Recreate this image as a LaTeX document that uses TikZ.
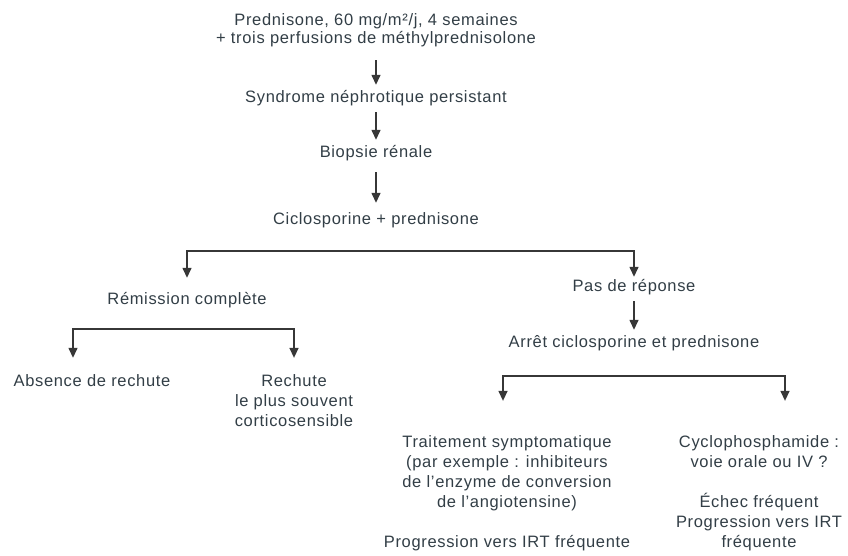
\documentclass[tikz,border=0pt]{standalone}
\usepackage{fontspec}
\setmainfont{Liberation Sans}[LetterSpace=4]
\usetikzlibrary{arrows.meta}
\usetikzlibrary{calc}
\definecolor{textcol}{RGB}{50,62,70}
\definecolor{linecol}{RGB}{55,55,55}

\begin{document}
\begin{tikzpicture}[x=1pt,y=-1pt,
text_style/.style={font=\fontsize{16.5}{20}\selectfont, text=textcol,
  inner xsep=0pt, inner ysep=5.5pt, text height=12pt, text depth=4pt, anchor=base},
multi_style/.style={font=\fontsize{16.5}{20}\selectfont, text=textcol,
  inner xsep=0pt, inner ysep=5.5pt, align=center, anchor=base},
arrow_style/.style={draw=linecol, line width=1.4pt, -{Triangle[width=9pt,length=10pt]}},
fork_style/.style={draw=linecol, line width=1.4pt,
  {Triangle[width=9pt,length=10pt]}-{Triangle[width=9pt,length=10pt]}}]

\useasboundingbox (0,0) rectangle (848,556);

% main column (multi-line nodes sit on their last baseline)
\node[multi_style, font=\fontsize{16.5}{18}\selectfont] (top) at (376,44)
  {Prednisone, 60 mg/m²/j, 4 semaines\\+ trois perfusions de méthylprednisolone};
\node[text_style] (syn) at (376,102.5) {Syndrome néphrotique persistant};
\node[text_style] (bio) at (376,157.5) {Biopsie rénale};
\node[text_style] (cic) at (376,224.5) {Ciclosporine + prednisone};

% first fork
\node[text_style] (rem) at (187,304.5) {Rémission complète};
\node[text_style] (pas) at (634,291.5) {Pas de réponse};
\node[text_style] (arr) at (634,347.5) {Arrêt ciclosporine et prednisone};

\node[text_style] (abs) at (92,386.5) {Absence de rechute};
\node[multi_style] (rech) at (294,426.5) {Rechute\\le plus souvent\\corticosensible};

\node[multi_style] (trait) at (507,547.5) {Traitement symptomatique\\(par exemple : inhibiteurs\\de l'enzyme de conversion\\de l'angiotensine)\\[20pt]Progression vers IRT fréquente};
\node[multi_style] (cyc) at (759,547.5) {Cyclophosphamide :\\voie orale ou IV ?\\[20pt]Échec fréquent\\Progression vers IRT\\fréquente};

\coordinate (k1) at (400,251);
\coordinate (k2l) at (73,329);
\coordinate (k2r) at (294,329);
\coordinate (k3l) at (503,376);
\coordinate (k3r) at (785,376);

\foreach \a/\b/\s/\e in {top/syn/7/0,syn/bio/0/0,bio/cic/5/4,pas/arr/0/0}{
 \draw[arrow_style, shorten <=\s pt, shorten >=\e pt] (\a.south) -- (\b.north);
}

\draw[fork_style, shorten <=9pt, shorten >=-3pt] (rem.north) |- (k1) -| (pas.north);
\draw[fork_style, shorten <=11pt, shorten >=11pt] (abs.north -| k2l) |- (k2r) -- (rech.north);
\draw[fork_style, shorten <=29pt, shorten >=29pt] (trait.north -| k3l) |- (k3r) -- (cyc.north -| k3r);
\end{tikzpicture}
\end{document}
